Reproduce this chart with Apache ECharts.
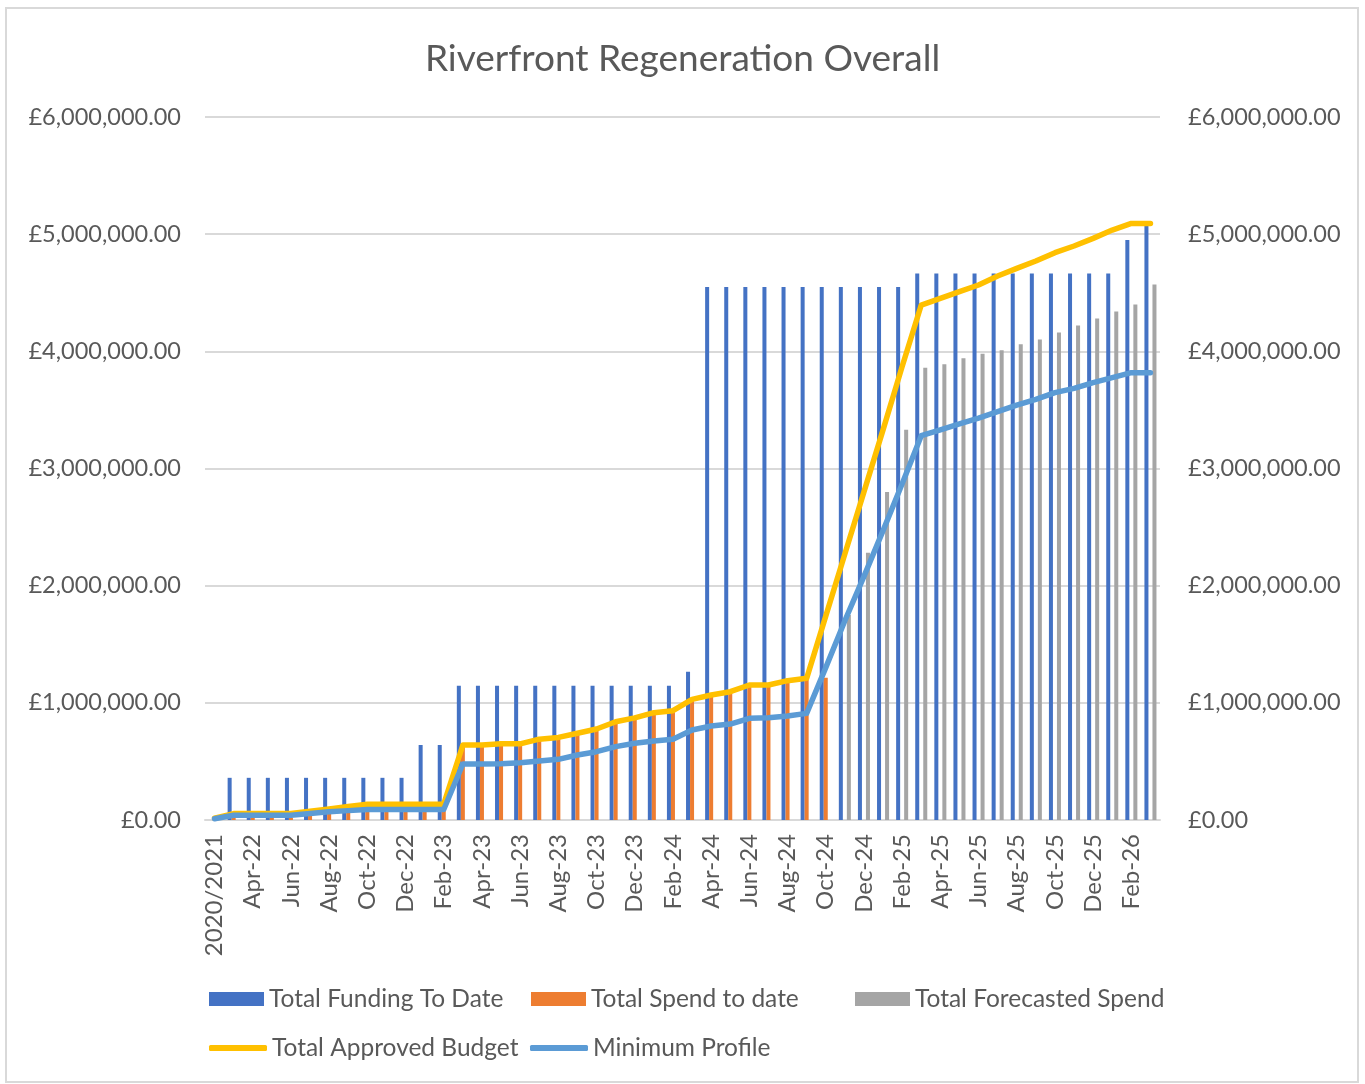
<!DOCTYPE html>
<html>
<head>
<meta charset="utf-8">
<script src="https://cdn.jsdelivr.net/npm/echarts@6/dist/echarts.min.js"></script>
<style>
  html, body { margin: 0; padding: 0; background: #fff; }
  #chart { width: 1365px; height: 1084px; }
</style>
</head>
<body>
<div id="chart"></div>
<script>
// category axis labels
const months = [
  '2020/2021', 'Mar-22', 'Apr-22', 'May-22', 'Jun-22', 'Jul-22', 'Aug-22', 'Sep-22', 'Oct-22', 'Nov-22',
  'Dec-22', 'Jan-23', 'Feb-23', 'Mar-23', 'Apr-23', 'May-23', 'Jun-23', 'Jul-23', 'Aug-23', 'Sep-23',
  'Oct-23', 'Nov-23', 'Dec-23', 'Jan-24', 'Feb-24', 'Mar-24', 'Apr-24', 'May-24', 'Jun-24', 'Jul-24',
  'Aug-24', 'Sep-24', 'Oct-24', 'Nov-24', 'Dec-24', 'Jan-25', 'Feb-25', 'Mar-25', 'Apr-25', 'May-25',
  'Jun-25', 'Jul-25', 'Aug-25', 'Sep-25', 'Oct-25', 'Nov-25', 'Dec-25', 'Jan-26', 'Feb-26', 'Mar-26'
]

// Total Funding To Date (blue bars)
const fundingToDate = [
  null, 360000, 360000, 360000, 360000, 360000, 360000, 360000, 360000, 360000,
  360000, 640000, 640000, 1145000, 1145000, 1145000, 1145000, 1145000, 1145000, 1145000,
  1145000, 1145000, 1145000, 1145000, 1145000, 1265000, 4550000, 4550000, 4550000, 4550000,
  4550000, 4550000, 4550000, 4550000, 4550000, 4550000, 4550000, 4665000, 4665000, 4665000,
  4665000, 4665000, 4665000, 4665000, 4665000, 4665000, 4665000, 4665000, 4950000, 5070000
]

// Total Spend to date (orange bars)
const spendToDate = [
  null, 20000, 20000, 20000, 20000, 60000, 80000, 100000, 120000, 125000,
  125000, 125000, 125000, 630000, 630000, 640000, 640000, 675000, 695000, 730000,
  765000, 825000, 860000, 905000, 920000, 1015000, 1055000, 1085000, 1140000, 1140000,
  1175000, 1195000, 1215000, null, null, null, null, null, null, null,
  null, null, null, null, null, null, null, null, null, null
]

// Total Forecasted Spend (grey bars)
const forecastSpend = [
  null, null, null, null, null, null, null, null, null, null,
  null, null, null, null, null, null, null, null, null, null,
  null, null, null, null, null, null, null, null, null, null,
  null, null, null, 1750000, 2280000, 2800000, 3330000, 3860000, 3890000, 3940000,
  3980000, 4010000, 4060000, 4100000, 4160000, 4220000, 4280000, 4340000, 4400000, 4570000
]

// Total Approved Budget (yellow line)
const approvedBudget = [
  15000, 55000, 55000, 55000, 55000, 75000, 95000, 115000, 135000, 135000,
  135000, 135000, 135000, 640000, 640000, 650000, 650000, 690000, 705000, 740000,
  777000, 839000, 872000, 916000, 933000, 1030000, 1067000, 1095000, 1152000, 1152000,
  1189000, 1209000, 1740000, 2270000, 2800000, 3330000, 3870000, 4395000, 4452000, 4509000,
  4566000, 4643000, 4708000, 4771000, 4842000, 4899000, 4964000, 5035000, 5092000, 5092000
]

// Minimum Profile (light blue line)
const minimumProfile = [
  10000, 40000, 40000, 40000, 40000, 55000, 70000, 80000, 90000, 90000,
  90000, 90000, 90000, 478000, 478000, 480000, 489000, 503000, 518000, 555000,
  583000, 626000, 655000, 675000, 690000, 768000, 802000, 819000, 868000, 873000,
  888000, 910000, 1300000, 1700000, 2080000, 2470000, 2870000, 3280000, 3330000, 3380000,
  3430000, 3485000, 3540000, 3590000, 3647000, 3684000, 3733000, 3775000, 3818000, 3818000
]

const FONT = 'Lato'
const GREY_TEXT = '#595959'

// £1,234,567.00
function money (v) {
  const s = Math.round(v).toString().replace(/\B(?=(\d{3})+(?!\d))/g, ',')
  return '£' + s + '.00'
}

function barSeries (name, data, color) {
  return {
    name,
    type: 'bar',
    data,
    barGap: '0%',
    barCategoryGap: '37%',
    itemStyle: { color },
    animation: false
  }
}

function lineSeries (name, data, color) {
  return {
    name,
    type: 'line',
    data,
    symbol: 'none',
    lineStyle: { color, width: 5.5, cap: 'round', join: 'round' },
    itemStyle: { color },
    animation: false
  }
}

// one legend per item so each entry sits where the original has it
function legendItem (name, left, top, isLine) {
  return {
    data: [name],
    left,
    top,
    padding: 0,
    selectedMode: false,
    icon: isLine ? 'roundRect' : 'rect',
    itemWidth: isLine ? 58 : 55,
    itemHeight: isLine ? 6 : 14,
    textStyle: { fontFamily: FONT, fontSize: 24.5, lineHeight: 28, color: GREY_TEXT }
  }
}

const chart = echarts.init(document.getElementById('chart'))

chart.setOption({
  backgroundColor: '#fff',
  title: {
    text: 'Riverfront Regeneration Overall',
    left: 'center',
    top: 36,
    textStyle: { fontFamily: FONT, fontSize: 37, fontWeight: 'normal', color: GREY_TEXT }
  },
  graphic: [{
    type: 'rect',
    shape: { x: 6, y: 8, width: 1352, height: 1074 },
    style: { fill: 'none', stroke: '#d9d9d9', lineWidth: 2 },
    silent: true
  }],
  legend: [
    legendItem('Total Funding To Date', 209, 985, false),
    legendItem('Total Spend to date', 531, 985, false),
    legendItem('Total Forecasted Spend', 855, 985, false),
    legendItem('Total Approved Budget', 209, 1034, true),
    legendItem('Minimum Profile', 530, 1034, true)
  ],
  grid: { left: 205, right: 205, top: 117, bottom: 264, containLabel: false },
  xAxis: {
    type: 'category',
    data: months,
    boundaryGap: true,
    axisLine: { lineStyle: { color: '#d9d9d9', width: 2 } },
    axisTick: { show: false },
    axisLabel: {
      interval: 1,
      rotate: 90,
      margin: 14,
      fontFamily: FONT,
      fontSize: 24,
      color: GREY_TEXT
    }
  },
  yAxis: [
    {
      type: 'value',
      min: 0,
      max: 6000000,
      interval: 1000000,
      axisLine: { show: false },
      axisTick: { show: false },
      splitLine: { lineStyle: { color: '#d9d9d9', width: 2 } },
      axisLabel: { formatter: money, margin: 24, fontFamily: FONT, fontSize: 23.5, color: GREY_TEXT }
    },
    {
      type: 'value',
      min: 0,
      max: 6000000,
      interval: 1000000,
      position: 'right',
      axisLine: { show: false },
      axisTick: { show: false },
      splitLine: { show: false },
      axisLabel: { formatter: money, margin: 28, fontFamily: FONT, fontSize: 23.5, color: GREY_TEXT }
    }
  ],
  series: [
    barSeries('Total Funding To Date', fundingToDate, '#4472C4'),
    barSeries('Total Spend to date', spendToDate, '#ED7D31'),
    barSeries('Total Forecasted Spend', forecastSpend, '#A5A5A5'),
    lineSeries('Total Approved Budget', approvedBudget, '#FFC000'),
    lineSeries('Minimum Profile', minimumProfile, '#5B9BD5')
  ]
})
</script>
</body>
</html>
